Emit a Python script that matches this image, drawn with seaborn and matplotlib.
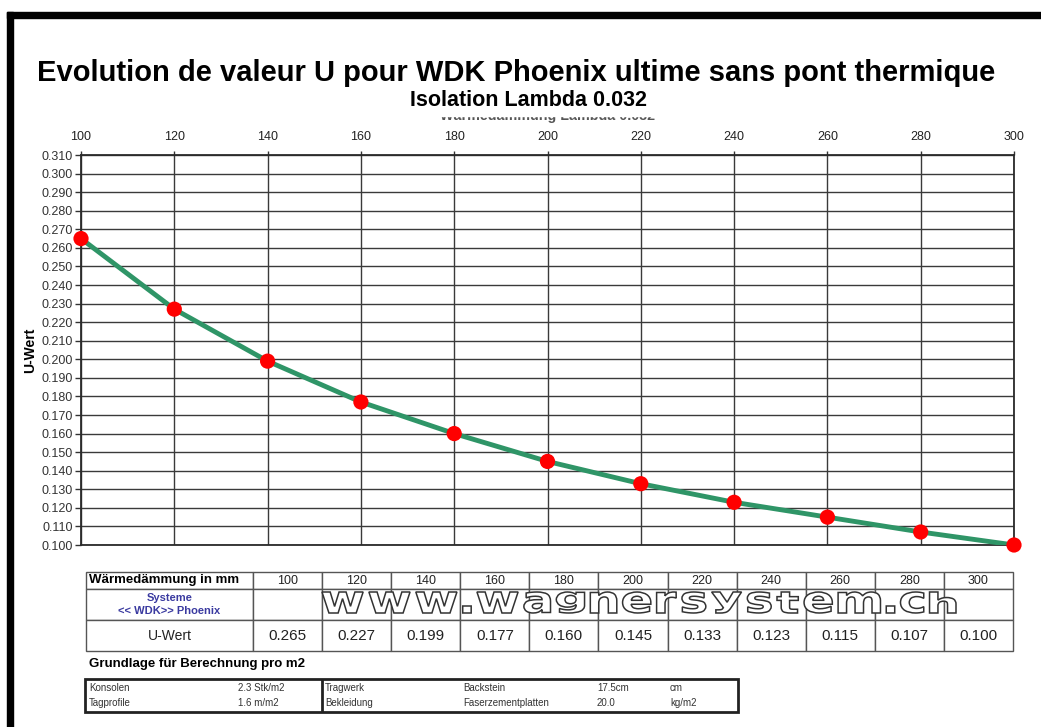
import matplotlib

matplotlib.use("Agg")
import matplotlib.pyplot as plt
import seaborn as sns
from matplotlib.font_manager import FontProperties
from matplotlib.patches import PathPatch, Rectangle
from matplotlib.path import Path
from matplotlib.table import Table
from matplotlib.textpath import TextPath
from matplotlib.transforms import Affine2D

# --- data -----------------------------------------------------------------
thickness_mm = [100, 120, 140, 160, 180, 200, 220, 240, 260, 280, 300]
u_values = [0.265, 0.227, 0.199, 0.177, 0.160, 0.145, 0.133, 0.123, 0.115, 0.107, 0.100]
y_ticks = [round(0.10 + 0.01 * i, 3) for i in range(22)]

basis_left = [["Konsolen", "2.3 Stk/m2"], ["Tagprofile", "1.6 m/m2"]]
basis_right = [["Tragwerk", "Backstein", "17.5cm", "cm"],
               ["Bekleidung", "Faserzementplatten", "20.0", "kg/m2"]]

title = "Evolution de valeur U pour WDK Phoenix ultime sans pont thermique"
subtitle = "Isolation Lambda 0.032"
hidden_title = "Wärmedämmung Lambda 0.032"
watermark = "www.wagnersystem.ch"

W, H = 1041, 727


def fx(px):
    return px / W


def fy(py):
    return 1 - py / H


sns.set_theme(style="white")
plt.rcParams["font.family"] = ["Liberation Sans", "DejaVu Sans"]

fig = plt.figure(figsize=(W / 100, H / 100), dpi=100)
fig.patch.set_facecolor("white")

# page frame (left and top thick bars)
fig.patches.append(Rectangle((fx(7), 0), fx(6), fy(12), transform=fig.transFigure,
                             color="black", zorder=1))
fig.patches.append(Rectangle((fx(7), fy(18)), 1, 6 / H, transform=fig.transFigure,
                             color="black", zorder=1))

# titles (the German chart title is mostly hidden behind the French subtitle)
fig.text(fx(516), fy(73), title, ha="center", va="center", fontsize=21,
         fontweight="bold", color="black")
fig.text(fx(548), fy(116), hidden_title, ha="center", va="center", fontsize=10.3,
         fontweight="bold", color="#555555", zorder=2)
fig.patches.append(Rectangle((fx(400), fy(115.5)), fx(300), (115.5 - 88) / H,
                             transform=fig.transFigure, color="white", zorder=2.5))
fig.text(fx(528), fy(101), subtitle, ha="center", va="center", fontsize=15.5,
         fontweight="bold", color="black", zorder=3)

# --- main chart -----------------------------------------------------------
ax = fig.add_axes([fx(81), fy(545), (1014 - 81) / W, (545 - 155) / H])
sns.lineplot(x=thickness_mm, y=u_values, color="#2f9567", lw=3.5, ax=ax, zorder=3)
sns.scatterplot(x=thickness_mm, y=u_values, color="#ff0000", s=120, edgecolor="none",
                ax=ax, zorder=4, clip_on=False)
ax.set_xlim(100, 300)
ax.set_ylim(0.100, 0.310)
ax.xaxis.tick_top()
ax.set_xticks(thickness_mm)
ax.set_yticks(y_ticks)
ax.set_yticklabels([f"{t:.3f}" for t in y_ticks])
ax.tick_params(axis="x", top=True, bottom=False, length=3, width=1, color="#333333",
               labelsize=9, labelcolor="#222222", pad=6)
ax.tick_params(axis="y", left=True, length=4, width=1, color="#333333",
               labelsize=9, labelcolor="#333333", pad=2)
ax.grid(True, color="#3a3a3a", lw=1)
for s in ax.spines.values():
    s.set_color("#2a2a2a")
    s.set_linewidth(1.3)
ax.set_xlabel("")
ax.set_ylabel("")
fig.text(fx(30), fy(350), "U-Wert", rotation=90, ha="center", va="center",
         fontsize=10, fontweight="bold", color="black")

# --- value table ----------------------------------------------------------
tab_ax = fig.add_axes([fx(86), fy(651), (1013 - 86) / W, (651 - 572) / H])
tab_ax.axis("off")
tbl = Table(tab_ax, bbox=[0, 0, 1, 1])
row_h = [17, 31, 31]
first_w = 167
col_w = (1013 - 86 - first_w) / len(thickness_mm)
rows = [
    ["Wärmedämmung in mm"] + [str(t) for t in thickness_mm],
    ["Systeme\n<< WDK>> Phoenix"] + [""] * len(thickness_mm),
    ["U-Wert"] + [f"{u:.3f}" for u in u_values],
]
for r, row in enumerate(rows):
    for c, txt in enumerate(row):
        w = first_w if c == 0 else col_w
        loc = "left" if (r == 0 and c == 0) else "center"
        cell = tbl.add_cell(r, c, width=w, height=row_h[r], text=txt, loc=loc,
                            edgecolor="#555555", facecolor="white")
        cell.set_linewidth(1)
        t = cell.get_text()
        t.set_fontsize(11 if r == 2 else 9)
        t.set_color("#222222")
        if r == 0 and c == 0:
            t.set_fontweight("bold")
            t.set_fontsize(9.5)
            t.set_color("black")
            cell.PAD = 0.02
        if r == 1 and c == 0:
            t.set_fontweight("bold")
            t.set_fontsize(8)
            t.set_color("#3a3aa0")
            t.set_linespacing(1.3)
        if r == 2 and c == 0:
            t.set_fontsize(10)
tbl.auto_set_font_size(False)
tab_ax.add_table(tbl)

# outlined watermark: every glyph stretched to the same height, like the original
prop = FontProperties(family="DejaVu Sans", weight="bold")
x0, x1, yt, yb = 322, 956, 592, 613
gap = 1.2
glyphs = []
for ch in watermark:
    p = TextPath((0, 0), ch, size=10, prop=prop)
    glyphs.append((ch, p, p.get_extents()))
total = sum(e.width for _, _, e in glyphs) + gap * (len(glyphs) - 1)
sx = (x1 - x0) / total
cursor = x0
parts = []
for ch, p, e in glyphs:
    h_px = 7 if ch == "." else (yb - yt)
    sy = h_px / e.height
    tr = (Affine2D().translate(-e.x0, -e.y0).scale(sx, sy)
          .translate(cursor, H - yb).scale(1 / W, 1 / H))
    parts.append(tr.transform_path(p))
    cursor += (e.width + gap) * sx
fig.patches.append(PathPatch(Path.make_compound_path(*parts), transform=fig.transFigure,
                             facecolor="white", edgecolor="#333333", lw=1.1, zorder=5))

# --- calculation basis -------------------------------------------------------
fig.text(fx(89), fy(664), "Grundlage für Berechnung pro m2", ha="left", va="center",
         fontsize=9.5, fontweight="bold", color="black")
fig.patches.append(Rectangle((fx(85), fy(712)), fx(738 - 85), (712 - 679) / H,
                             transform=fig.transFigure, facecolor="none",
                             edgecolor="#222222", lw=2, zorder=4))
fig.patches.append(Rectangle((fx(322), fy(712)), 0, (712 - 679) / H,
                             transform=fig.transFigure, facecolor="none",
                             edgecolor="#222222", lw=2, zorder=4))
row_y = [688, 703]
for i, (label, val) in enumerate(basis_left):
    fig.text(fx(89), fy(row_y[i]), label, ha="left", va="center", fontsize=7, color="#333333")
    fig.text(fx(238), fy(row_y[i]), val, ha="left", va="center", fontsize=7, color="#333333")
for i, vals in enumerate(basis_right):
    for xp, v in zip([325, 463, 597, 670], vals):
        fig.text(fx(xp), fy(row_y[i]), v, ha="left", va="center", fontsize=7, color="#333333")

fig.savefig("out.png", dpi=100)
